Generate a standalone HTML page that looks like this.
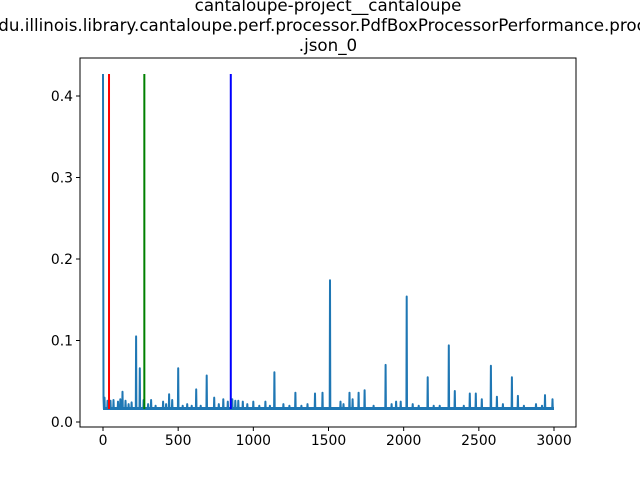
<!DOCTYPE html>
<html><head><meta charset="utf-8"><style>
body{margin:0;background:#fff;width:640px;height:480px;overflow:hidden;font-family:"DejaVu Sans","Liberation Sans",sans-serif}
</style></head><body>
<svg id="chart" width="640" height="480" xmlns="http://www.w3.org/2000/svg" font-family="DejaVu Sans, Liberation Sans, sans-serif">
<rect width="640" height="480" fill="#fff"/>
<g id="title" font-size="16.7" fill="#000">
<text x="328" y="11" text-anchor="middle">cantaloupe-project__cantaloupe</text>
<text x="-12" y="31" text-anchor="start">edu.illinois.library.cantaloupe.perf.processor.PdfBoxProcessorPerformance.processor</text>
<text x="328" y="51" text-anchor="middle">.json_0</text>
</g>
<g id="plot"></g>
</svg>
<script>
const baseline = 0.016;
const spikeX = [0,10,30,50,70,100,115,130,150,170,190,220,245,270,300,320,350,400,420,440,460,500,530,560,590,620,650,690,740,770,800,830,860,880,900,930,960,1000,1040,1080,1110,1140,1200,1240,1280,1320,1360,1410,1460,1510,1580,1600,1640,1660,1700,1740,1800,1880,1920,1950,1980,2020,2060,2100,2160,2200,2240,2300,2340,2400,2440,2480,2520,2580,2620,2660,2720,2760,2800,2880,2920,2940,2990];
const spikeY = [0.427,0.03,0.026,0.026,0.027,0.025,0.028,0.037,0.026,0.022,0.024,0.105,0.066,0.027,0.022,0.027,0.02,0.025,0.022,0.034,0.027,0.066,0.02,0.022,0.02,0.04,0.02,0.057,0.03,0.022,0.028,0.025,0.028,0.026,0.026,0.025,0.022,0.025,0.02,0.025,0.02,0.061,0.022,0.02,0.036,0.02,0.022,0.035,0.036,0.174,0.025,0.022,0.036,0.028,0.036,0.039,0.02,0.07,0.022,0.025,0.025,0.154,0.022,0.02,0.055,0.02,0.02,0.094,0.038,0.02,0.035,0.035,0.028,0.069,0.031,0.022,0.055,0.032,0.02,0.022,0.02,0.033,0.028];
const vlineX = [40,275,850];
const vlineColors = ['#ff0000','#008000','#0000ff'];
const vlineTop = 0.427;
const xTicks = [0,500,1000,1500,2000,2500,3000];
const yTicks = [0.0,0.1,0.2,0.3,0.4];
const yTickLabels = ['0.0','0.1','0.2','0.3','0.4'];

const L=80,R=576,T=58,B=427;
const xs = v => 103 + v*451/3000;
const ys = v => 422 - v*815;
const NS='http://www.w3.org/2000/svg';
const g=document.getElementById('plot');
function mk(tag,attrs){const e=document.createElementNS(NS,tag);for(const k in attrs)e.setAttribute(k,attrs[k]);g.appendChild(e);return e;}

let pts=[[0,spikeY[0]],[3,0.03],[6,baseline]];
for(let i=1;i<spikeX.length;i++){
  const x=spikeX[i];
  pts.push([x-2,baseline],[x,spikeY[i]],[x+2,baseline]);
}
pts.push([3000,baseline]);
const line=mk('polyline',{points:pts.map(p=>xs(p[0]).toFixed(1)+','+ys(p[1]).toFixed(1)).join(' '),fill:'none',stroke:'#1f77b4','stroke-width':2,'stroke-linejoin':'round'});


const band=mk('line',{x1:xs(0),x2:xs(3000),y1:ys(baseline)-0.5,y2:ys(baseline)-0.5,stroke:'#1f77b4','stroke-width':3});



vlineX.forEach((v,i)=>{
  const l=mk('line',{x1:xs(v),x2:xs(v),y1:ys(baseline),y2:ys(vlineTop),stroke:vlineColors[i],'stroke-width':2});
  
  
});

const frame=mk('rect',{x:L,y:T,width:R-L,height:B-T,fill:'none',stroke:'#000','stroke-width':1});



xTicks.forEach(v=>{
  const t=mk('line',{x1:xs(v),x2:xs(v),y1:B,y2:B+4,stroke:'#000'});
  
  
  const tx=mk('text',{x:xs(v),y:B+18,'font-size':13.9,'text-anchor':'middle'});
  tx.textContent=String(v);
  
  
});
yTicks.forEach((v,i)=>{
  const t=mk('line',{x1:L-4,x2:L,y1:ys(v),y2:ys(v),stroke:'#000'});
  
  
  const tx=mk('text',{x:L-7,y:ys(v)+5,'font-size':13.9,'text-anchor':'end'});
  tx.textContent=yTickLabels[i];
  
  
});
</script>
</body></html>
